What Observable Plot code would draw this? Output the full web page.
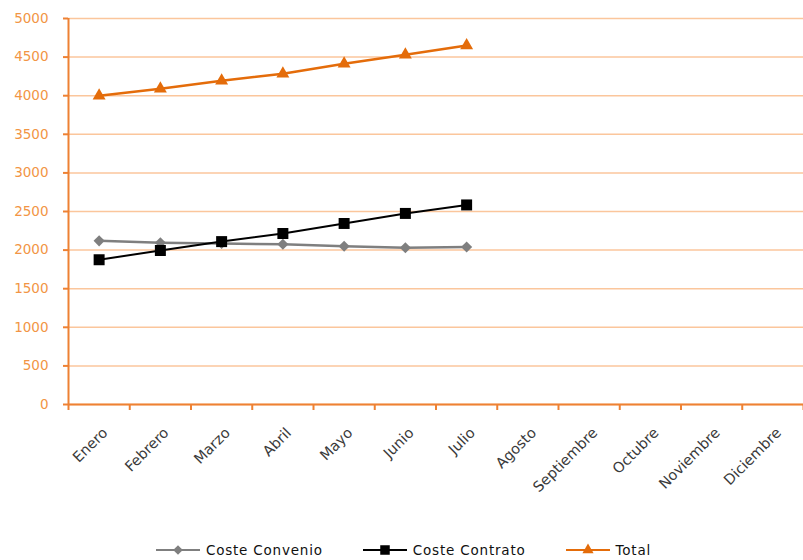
<!DOCTYPE html>
<html><head><meta charset="utf-8">
<script src="https://cdn.jsdelivr.net/npm/d3@7"></script>
<script src="https://cdn.jsdelivr.net/npm/@observablehq/plot@0.6"></script>
<style>
body{margin:0;background:#fff;font-family:"DejaVu Sans",sans-serif}
#legend{display:flex;justify-content:center;align-items:center;height:26px;gap:40px;font-size:13.5px;letter-spacing:0.8px;color:#111;padding-left:4px}
#legend .item{display:flex;align-items:center}
#legend svg{margin-right:6px}
</style>
</head><body><div id="chart"></div><div id="legend"></div>
<script>
const months = ["Enero","Febrero","Marzo","Abril","Mayo","Junio","Julio","Agosto","Septiembre","Octubre","Noviembre","Diciembre"];
const seriesNames = ["Coste Convenio","Coste Contrato","Total"];
const costeConvenio = [2120,2095,2085,2075,2050,2030,2040];
const costeContrato = [1875,1995,2110,2215,2345,2475,2585];
const total = [4000,4090,4195,4285,4415,4530,4650];
const yTicks = [0,500,1000,1500,2000,2500,3000,3500,4000,4500,5000];

const seriesColors = ["#7f7f7f","#000000","#E46C0A"];
const seriesSymbols = ["diamond2","square","triangle"];
const seriesR = [5,6.2,4.8];
const seriesWidth = [2.5,2,2.5];
const axisColor = "#EE8133";
const gridColor = "#FBC69C";
const labelColor = "#F29545";

const values = [costeConvenio, costeContrato, total];
const rows = [];
values.forEach((arr, s) => arr.forEach((v, i) => rows.push({series: seriesNames[s], xi: i + 0.5, value: v})));

const W = 803, H = 537;
const marks = [
  Plot.ruleY(yTicks, {stroke: gridColor, strokeWidth: 1.5})
];
seriesNames.forEach((name, s) => {
  const d = rows.filter(r => r.series === name);
  marks.push(Plot.line(d, {x: "xi", y: "value", stroke: seriesColors[s], strokeWidth: seriesWidth[s]}));
  marks.push(Plot.dot(d, {x: "xi", y: "value", symbol: () => seriesSymbols[s], r: seriesR[s], fill: seriesColors[s], stroke: "none"}));
});
marks.push(
  Plot.axisY(yTicks, {tickSize: 5, tickPadding: 15, stroke: axisColor, strokeWidth: 2, fill: labelColor, fontSize: 13.5, tickFormat: d => String(d), label: null}),
  Plot.axisX(d3.range(13), {tickSize: 6, stroke: axisColor, strokeWidth: 2, tickFormat: () => "", label: null}),
  Plot.axisX(months.map((m, i) => i + 0.5), {tickSize: 0, tickPadding: 26, tickRotate: -45, dx: 6, fill: "#3a3a3a", fontSize: 14.5, tickFormat: d => months[Math.floor(d)], label: null}),
  Plot.ruleY([0], {stroke: axisColor, strokeWidth: 2}),
  Plot.ruleX([0], {stroke: axisColor, strokeWidth: 2})
);

const chart = Plot.plot({
  width: W, height: H,
  marginLeft: 68, marginRight: 0, marginTop: 18, marginBottom: H - 404,
  style: {fontFamily: "DejaVu Sans, sans-serif", overflow: "visible"},
  x: {type: "linear", domain: [0, 12], axis: null},
  y: {domain: [0, 5000], axis: null},
  marks
});
document.getElementById("chart").appendChild(chart);

const legend = d3.select("#legend");
seriesNames.forEach((name, s) => {
  const item = legend.append("div").attr("class", "item");
  const svg = item.append("svg").attr("width", 44).attr("height", 14);
  svg.append("line").attr("x1", 0).attr("x2", 44).attr("y1", 7).attr("y2", 7).attr("stroke", seriesColors[s]).attr("stroke-width", 2);
  const sym = {diamond2: d3.symbolDiamond2, square: d3.symbolSquare, triangle: d3.symbolTriangle}[seriesSymbols[s]];
  svg.append("path").attr("transform", "translate(22,7)").attr("d", d3.symbol(sym, Math.PI * seriesR[s] * seriesR[s] * 0.75)()).attr("fill", seriesColors[s]);
  item.append("span").text(name);
});
</script></body></html>
